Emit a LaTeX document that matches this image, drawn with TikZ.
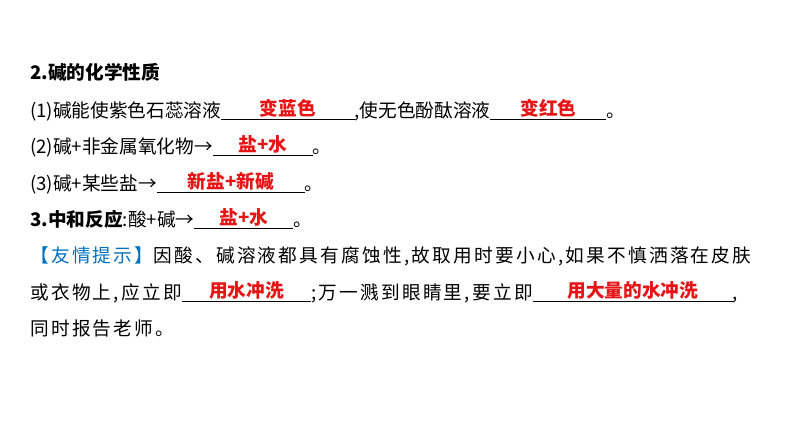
\documentclass[tikz,border=0pt]{standalone}
\usepackage{fontspec}
\setmainfont{Noto Sans CJK SC}
\newfontfamily\wide[LetterSpace=12]{Noto Sans CJK SC}
\definecolor{ansred}{RGB}{230,20,20}
\definecolor{tipblue}{RGB}{0,112,192}
\newcommand{\blank}[2]{\underline{\makebox[#1]{\raisebox{1.5pt}{\normalfont\color{ansred}\bfseries #2}}}}
\tikzset{line/.style={anchor=west, inner sep=0pt, font=\fontsize{14}{16}\selectfont}}
\begin{document}
\begin{tikzpicture}[x=0.75pt,y=-0.75pt]
  \useasboundingbox (0,0) rectangle (794,447);

  % Text lines
  \node (l1) [line] at (30,72) {\bfseries 2.碱的化学性质};
  \node (l2) [line] at (30,110) {(1)碱能使紫色石蕊溶液\blank{100pt}{变蓝色},使无色酚酞溶液\blank{87pt}{变红色}。};
  \node (l3) [line] at (30,146) {(2)碱+非金属氧化物→\blank{75pt}{盐+水}。};
  \node (l4) [line] at (30,183) {(3)碱+某些盐→\blank{111pt}{新盐+新碱}。};
  \node (l5) [line] at (30,219) {{\bfseries 3.中和反应}:酸+碱→\blank{74pt}{盐+水}。};
  \node (l6) [line] at (30,256) {\wide{\color{tipblue}【友情提示】}因酸、碱溶液都具有腐蚀性,故取用时要小心,如果不慎洒落在皮肤};
  \node (l7) [line] at (30,292) {\wide 或衣物上,应立即\blank{97pt}{用水冲洗};万一溅到眼睛里,要立即\blank{150pt}{用大量的水冲洗},};
  \node (l8) [line] at (30,328) {\wide 同时报告老师。};
\end{tikzpicture}
\end{document}
